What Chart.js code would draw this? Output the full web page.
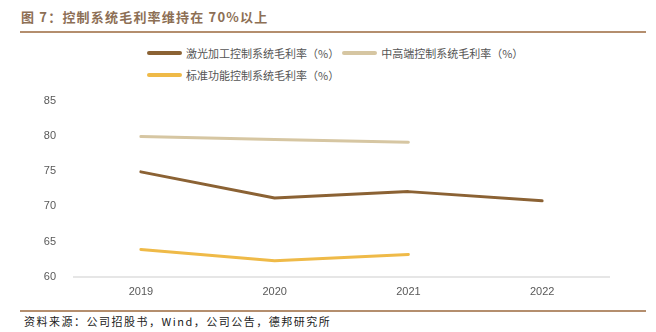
<!DOCTYPE html>
<html>
<head>
<meta charset="utf-8">
<script src="https://cdn.jsdelivr.net/npm/chart.js@4/dist/chart.umd.min.js"></script>
<style>
  body { margin: 0; background: #fff; width: 656px; height: 332px; position: relative; overflow: hidden;
         font-family: "Noto Sans CJK SC", "Liberation Sans", sans-serif; }
  #title { position: absolute; left: 21px; top: 7px; font-size: 13px; font-weight: bold; color: #8d6f55; letter-spacing: 1.2px; }
  .rule { position: absolute; left: 20px; width: 626px; height: 2px; background: #b48e6e; }
  #legend { position: absolute; left: 147px; top: 42px; width: 420px; font-size: 11px; color: #555; }
  .item { display: inline-flex; align-items: center; margin-right: 3px; height: 21px; }
  .swatch { display: inline-block; width: 35px; height: 4px; border-radius: 2px; margin-right: 4px; }
  #wrap { position: absolute; left: 0; top: 84px; width: 656px; height: 221px; }
  #source { position: absolute; left: 24px; top: 313px; font-size: 11px; color: #222; letter-spacing: 1.5px; }
</style>
</head>
<body>
<div id="title">图 7：控制系统毛利率维持在 70%以上</div>
<div class="rule" style="top:31px"></div>
<div id="legend"></div>
<div id="wrap"><canvas id="c"></canvas></div>
<div class="rule" style="top:310px"></div>
<div id="source">资料来源：公司招股书，Wind，公司公告，德邦研究所</div>
<script>
const years = ['2019', '2020', '2021', '2022'];
const laserMargin = [74.9, 71.2, 72.1, 70.8];
const highEndMargin = [79.9, 79.5, 79.1, null];
const standardMargin = [63.9, 62.3, 63.2, null];
const seriesNames = ['激光加工控制系统毛利率（%）', '中高端控制系统毛利率（%）', '标准功能控制系统毛利率（%）'];
const seriesColors = ['#8b6234', '#d6c6a2', '#efba48'];

const datasets = [laserMargin, highEndMargin, standardMargin].map((d, i) => ({
    label: seriesNames[i],
    data: d,
    borderColor: seriesColors[i],
    backgroundColor: seriesColors[i],
    borderWidth: 3,
    borderCapStyle: 'round',
    borderJoinStyle: 'round',
    pointRadius: 0,
    tension: 0,
    fill: false
}));

// legend in html, row 2 starts on the left like the original
const legend = document.getElementById('legend');
seriesNames.forEach((n, i) => {
    const el = document.createElement('span');
    el.className = 'item';
    el.innerHTML = '<span class="swatch" style="background:' + seriesColors[i] + '"></span>' + n;
    legend.appendChild(el);
    if (i === 1) legend.appendChild(document.createElement('br'));
});

new Chart(document.getElementById('c'), {
    type: 'line',
    data: { labels: years, datasets: datasets },
    options: {
        responsive: true,
        maintainAspectRatio: false,
        animation: false,
        layout: { padding: { top: 5, right: 47, bottom: 4, left: 0 } },
        plugins: { legend: { display: false }, tooltip: { enabled: false } },
        scales: {
            x: {
                offset: true,
                grid: { display: false, offset: true },
                border: { color: '#e6e6e6', width: 2 },
                ticks: { color: '#595959', font: { size: 11, family: 'Liberation Sans' }, padding: 0 },
                afterFit: s => { s.height = 24; }
            },
            y: {
                min: 60, max: 85,
                grid: { display: false },
                border: { display: false },
                ticks: { stepSize: 5, color: '#595959', font: { size: 11, family: 'Liberation Sans' }, padding: 10 },
                afterFit: s => { s.width = 74; }
            }
        }
    }
});
</script>
</body>
</html>
